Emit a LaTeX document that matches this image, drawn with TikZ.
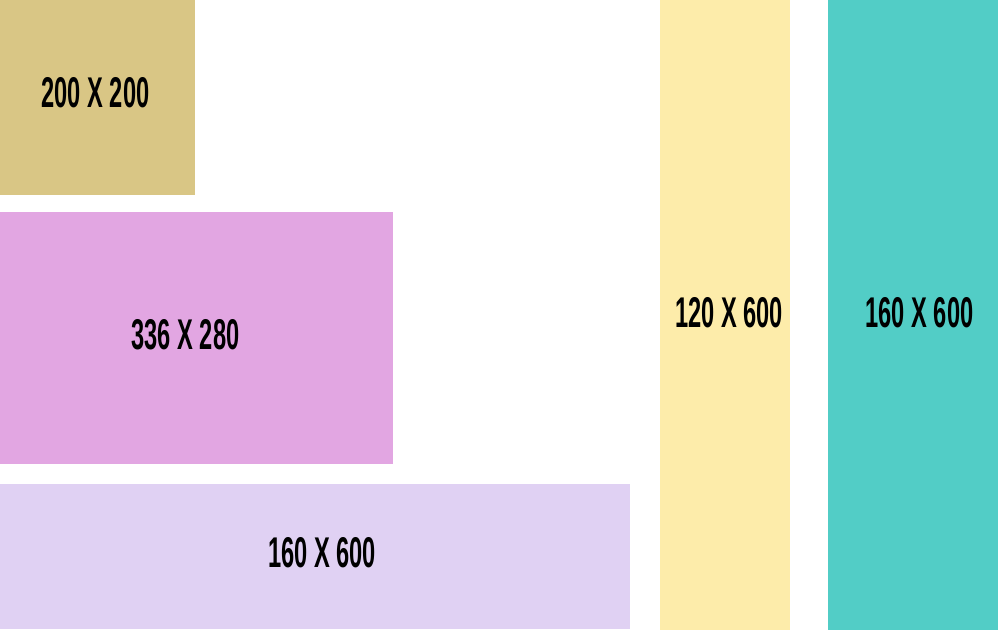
\documentclass[tikz,border=0pt]{standalone}
\usepackage{fontspec}
\newfontfamily\condfont[FakeStretch=0.55]{Liberation Sans Bold}
\definecolor{cgold}{HTML}{D9C685}
\definecolor{cpink}{HTML}{E2A6E2}
\definecolor{clav}{HTML}{E0D1F3}
\definecolor{cyel}{HTML}{FDECAA}
\definecolor{cteal}{HTML}{52CDC6}
\begin{document}
\begin{tikzpicture}[x=1pt,y=-1pt,
  lbl/.style={font=\condfont\fontsize{43}{43}\selectfont, text=black, inner sep=0pt, anchor=center}]
\useasboundingbox (0,0) rectangle (1000,630);
\fill[white] (0,0) rectangle (1000,630);
\fill[cgold] (0,0) rectangle (195,195);
\fill[cpink] (0,212) rectangle (393,464);
\fill[clav] (0,484) rectangle (630,629);
\fill[cyel] (660,0) rectangle (790,630);
\fill[cteal] (828,0) rectangle (998,630);
\node[lbl] (a) at (95.5,93) {200 X 200};
\node[lbl] (b) at (185.5,335) {336 X 280};
\node[lbl] (c) at (322,553) {160 X 600};
\node[lbl] (d) at (729,313) {120 X 600};
\node[lbl] (e) at (919.5,313) {160 X 600};
\end{tikzpicture}
\end{document}
